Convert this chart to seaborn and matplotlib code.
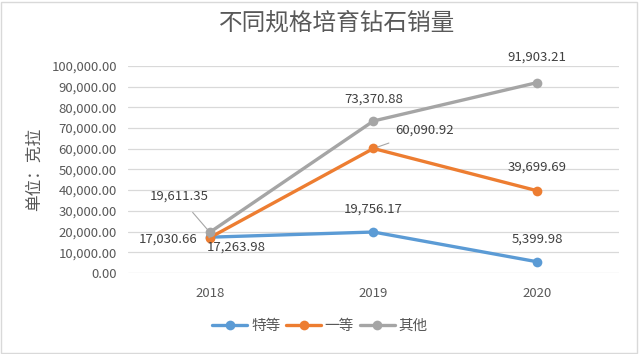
import matplotlib
matplotlib.use("Agg")
import matplotlib.pyplot as plt
import seaborn as sns
import pandas as pd
from matplotlib.patches import Rectangle
from matplotlib.ticker import FuncFormatter
from matplotlib.lines import Line2D

years = ["2018", "2019", "2020"]
series_names = ["特等", "一等", "其他"]
tedeng = [17263.98, 19756.17, 5399.98]
yideng = [17030.66, 60090.92, 39699.69]
qita = [19611.35, 73370.88, 91903.21]
colors = ["#5B9BD5", "#ED7D31", "#A5A5A5"]

sns.set_theme(style="white")
plt.rcParams['font.family'] = ['Noto Sans CJK SC', 'DejaVu Sans']

rows = []
for name, vals in zip(series_names, [tedeng, yideng, qita]):
    for i, (y, v) in enumerate(zip(years, vals)):
        rows.append({"pos": i, "year": y, "series": name, "value": v})
df = pd.DataFrame(rows)

fig = plt.figure(figsize=(6.4, 3.54), dpi=100)
ax = fig.add_axes([0.2, 0.229, 0.767, 0.585])

sns.lineplot(data=df, x="pos", y="value", hue="series", hue_order=series_names,
             palette=colors, marker="o", markersize=7, markeredgewidth=0,
             linewidth=2.4, ax=ax, legend=False)

ax.set_xlim(-0.5, 2.5)
ax.set_ylim(0, 100000)
ax.set_yticks(range(0, 100001, 10000))
ax.yaxis.set_major_formatter(FuncFormatter(lambda v, p: f"{v:,.2f}"))
ax.set_xticks(range(len(years)))
ax.set_xticklabels(years)
ax.grid(axis="y", color="#D9D9D9", linewidth=0.9)
ax.set_axisbelow(True)
for s in ax.spines.values():
    s.set_visible(False)
ax.tick_params(axis="both", colors="#595959", labelsize=9.5, length=0, pad=8)
ax.tick_params(axis="x", pad=10)
ax.set_xlabel("")
ax.set_ylabel("单位：克拉", fontsize=12, color="#595959", labelpad=6)
fig.text(0.527, 0.935, "不同规格培育钻石销量", ha="center", va="center",
         fontsize=17, color="#595959", fontweight="light")

# data labels: (series values, index, dx, dy, leader)
label_specs = [
    (qita, 0, -31, 36, True),
    (yideng, 0, -42, -1, True),
    (tedeng, 0, 26, -10, False),
    (qita, 1, 0, 22, False),
    (yideng, 1, 51, 18, True),
    (tedeng, 1, 0, 23, False),
    (qita, 2, 0, 25, False),
    (yideng, 2, 0, 24, False),
    (tedeng, 2, 0, 23, False),
]
for vals, i, dx, dy, leader in label_specs:
    kw = {}
    if leader:
        kw["arrowprops"] = dict(arrowstyle="-", color="#A6A6A6", lw=0.8,
                                shrinkA=6, shrinkB=3)
    ax.annotate(f"{vals[i]:,.2f}", xy=(i, vals[i]), xytext=(dx, dy),
                textcoords="offset pixels", ha="center", va="center",
                fontsize=9.5, color="#404040", **kw)

handles = [Line2D([0], [0], color=c, lw=2.4, marker="o", markersize=7,
                  markeredgewidth=0) for c in colors]
fig.legend(handles, series_names, loc="center", bbox_to_anchor=(0.5, 0.079),
           ncol=3, frameon=False, fontsize=10.5, handlelength=2.4,
           columnspacing=0.4, handletextpad=0.25, labelcolor="#595959")

fig.patches.append(Rectangle((0.002, 0.003), 0.994, 0.992, transform=fig.transFigure,
                             fill=False, edgecolor="#D9D9D9", linewidth=1))
fig.savefig("out.png", dpi=100, facecolor="white")
